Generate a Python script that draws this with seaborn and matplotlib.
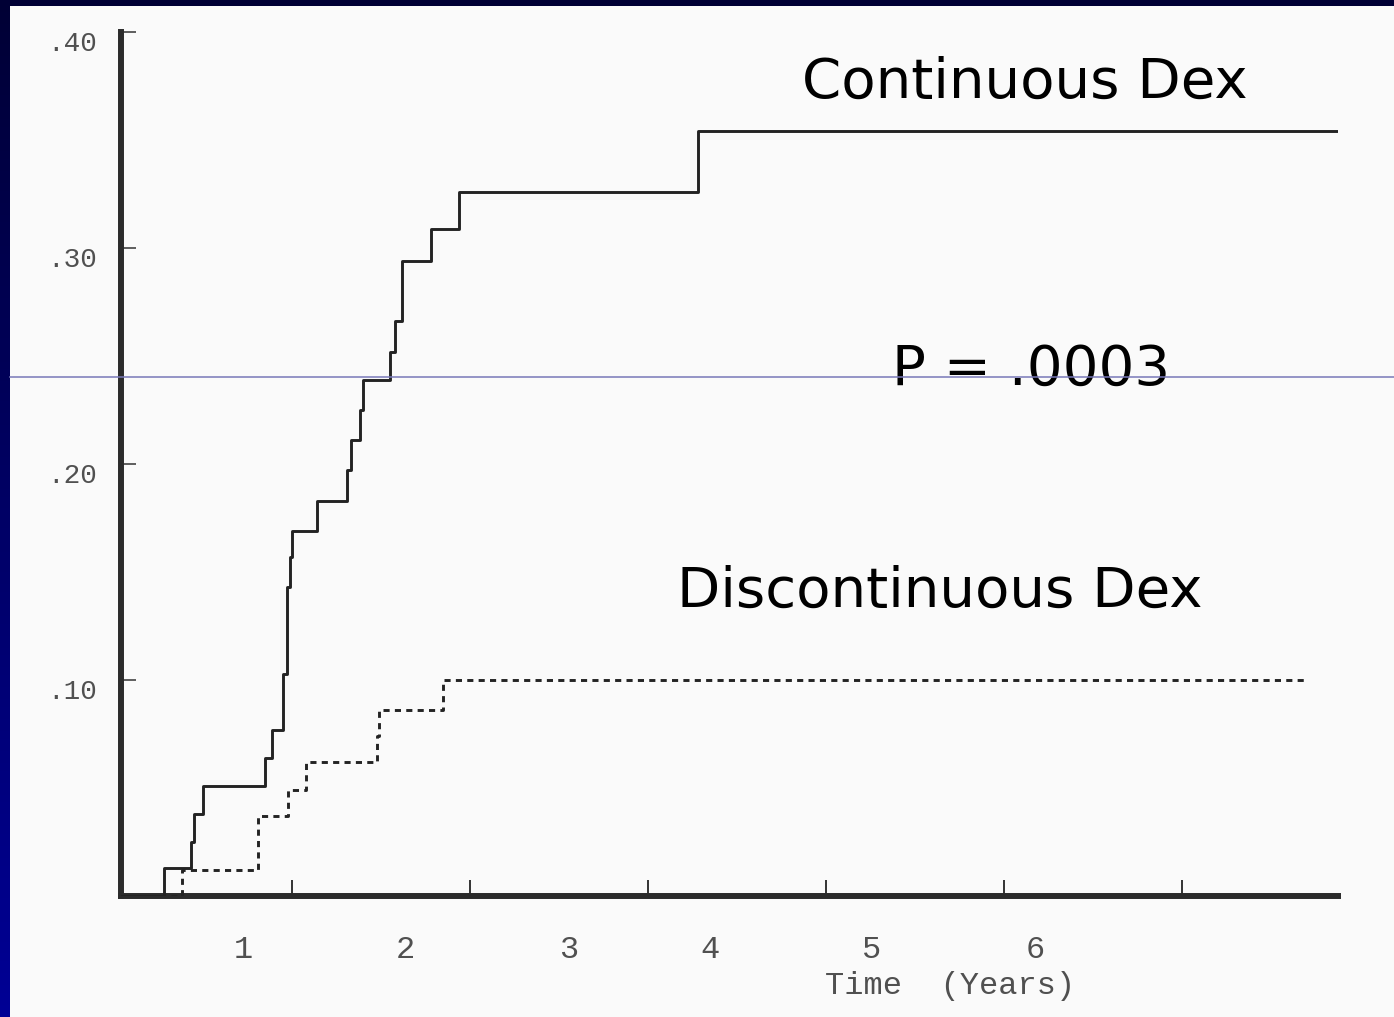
import numpy as np
import pandas as pd
import matplotlib
matplotlib.use("Agg")
import matplotlib.pyplot as plt
from matplotlib.colors import LinearSegmentedColormap
from matplotlib.patches import Rectangle
from matplotlib.lines import Line2D
import seaborn as sns

# ---------------- data ----------------
cont_time = [0.0, 0.28, 0.43, 0.45, 0.50, 0.85, 0.89, 0.95, 0.97, 0.99, 1.00, 1.14,
             1.31, 1.33, 1.38, 1.40, 1.55, 1.58, 1.62, 1.78, 1.94, 3.28, 6.87]
cont_value = [0.0, 0.013, 0.025, 0.038, 0.051, 0.064, 0.077, 0.103, 0.143, 0.157, 0.169, 0.183,
              0.197, 0.211, 0.225, 0.239, 0.252, 0.266, 0.294, 0.309, 0.326, 0.354, 0.354]

disc_time = [0.0, 0.38, 0.81, 0.98, 1.08, 1.48, 1.49, 1.85, 6.70]
disc_value = [0.0, 0.012, 0.037, 0.049, 0.062, 0.074, 0.086, 0.100, 0.100]

y_ticks = [0.10, 0.20, 0.30, 0.40]
y_tick_labels = [".10", ".20", ".30", ".40"]
x_ticks = [1, 2, 3, 4, 5, 6]
x_tick_labels = ["1", "2", "3", "4", "5", "6"]
# the scanned chart prints its year labels offset from the tick marks
x_label_pos = [0.725, 1.635, 2.556, 3.348, 4.258, 5.174]
x_title = "Time  (Years)"
label_cont = "Continuous Dex"
label_disc = "Discontinuous Dex"
label_p = "P = .0003"

df_cont = pd.DataFrame({"time": cont_time, "value": cont_value})
df_disc = pd.DataFrame({"time": disc_time, "value": disc_value})

# ---------------- layout ----------------
W, H = 1394, 1017
fig = plt.figure(figsize=(W / 100, H / 100), dpi=100)

def fx(px):
    return px / W

def fy(py):
    return 1 - py / H

# background: navy gradient with a light "slide" area
bg = fig.add_axes([0, 0, 1, 1], zorder=-10)
bg.axis("off")
cmap = LinearSegmentedColormap.from_list("navy", ["#000035", "#000095"])
bg.imshow(np.linspace(0, 1, 256).reshape(-1, 1), aspect="auto", cmap=cmap,
          extent=[0, 1, 0, 1], origin="upper")
bg.add_patch(Rectangle((10 / W, 0), 1 - 10 / W, 1 - 6 / H, facecolor="#fafafa",
                       edgecolor="none", transform=bg.transAxes))
bg.set_xlim(0, 1)
bg.set_ylim(0, 1)

# main axes
ax_l, ax_r, ax_t, ax_b = 121, 1338, 32, 896
ax = fig.add_axes([fx(ax_l), fy(ax_b), (ax_r - ax_l) / W, (ax_b - ax_t) / H])
ax.set_facecolor("none")

x0_px, px_per_year = 114, 178
ax.set_xlim((ax_l - x0_px) / px_per_year, (ax_r - x0_px) / px_per_year)
ax.set_ylim(0, 0.40)

line_col = "#232323"
sns.lineplot(data=df_cont, x="time", y="value", ax=ax, drawstyle="steps-post",
             color=line_col, lw=2.1, estimator=None, sort=False, zorder=3)
sns.lineplot(data=df_disc, x="time", y="value", ax=ax, drawstyle="steps-post",
             color=line_col, lw=2.1, linestyle=(0, (2.1, 1.8)), estimator=None,
             sort=False, zorder=3)

for s in ["top", "right"]:
    ax.spines[s].set_visible(False)
for s in ["left", "bottom"]:
    ax.spines[s].set_linewidth(4.3)
    ax.spines[s].set_color("#2b2b2b")
    ax.spines[s].set_capstyle("projecting")

ax.set_xticks(x_ticks)
ax.set_xticklabels([])
ax.set_yticks(y_ticks)
ax.set_yticklabels([])
ax.tick_params(axis="x", direction="in", length=11.5, width=1.4, color="#333333")
ax.tick_params(axis="y", direction="in", length=11, width=1.1, color="#333333")
ax.set_ylabel("")

mono = "Liberation Mono"
txt_col = "#505050"
for v, lab in zip(y_ticks, y_tick_labels):
    ax.annotate(lab, xy=(0, v), xycoords=("axes fraction", "data"),
                xytext=(-24, -12), textcoords="offset pixels", ha="right",
                va="center", family=mono, fontsize=20, color=txt_col)

for pos, lab in zip(x_label_pos, x_tick_labels):
    ax.annotate(lab, xy=(pos, 0), xycoords=("data", "axes fraction"),
                xytext=(0, -54), textcoords="offset pixels", ha="center",
                va="center", family=mono, fontsize=23, color=txt_col)

ax.set_xlabel(x_title, family=mono, fontsize=23, color=txt_col)
ax.xaxis.set_label_coords((950 - ax_l) / (ax_r - ax_l), (ax_b - 986) / (ax_b - ax_t))
ax.xaxis.label.set_va("center")

# thin blue guide line across the slide
fig.add_artist(Line2D([10 / W, 1], [fy(377), fy(377)], transform=fig.transFigure,
                      color="#7878b8", lw=1.1, zorder=5))

sans = "DejaVu Sans"
fs = 40.5
fig.text(fx(802), fy(98), label_cont, fontsize=fs, family=sans, color="black",
         ha="left", va="baseline")
fig.text(fx(892), fy(385), label_p, fontsize=fs, family=sans, color="black",
         ha="left", va="baseline")
fig.text(fx(677), fy(607), label_disc, fontsize=fs, family=sans, color="black",
         ha="left", va="baseline")

fig.savefig("out.png", dpi=100)
